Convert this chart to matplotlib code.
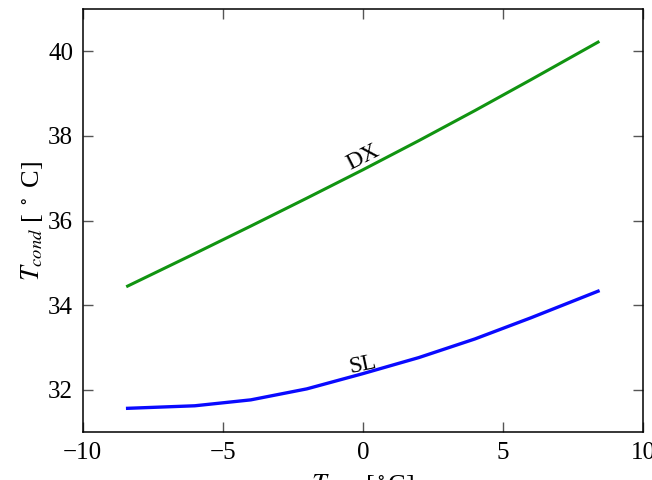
import matplotlib
matplotlib.use("Agg")
import matplotlib.pyplot as plt
import numpy as np

# ambient temperature [C]
t_amb = [-8.4, -6, -4, -2, 0, 2, 4, 6, 8.4]
# condensing temperature, direct expansion
t_dx = [34.45, 35.22, 35.87, 36.53, 37.2, 37.89, 38.6, 39.33, 40.22]
# condensing temperature, secondary loop
t_sl = [31.56, 31.62, 31.76, 32.02, 32.38, 32.76, 33.2, 33.7, 34.33]

plt.rcParams['font.family'] = ['Liberation Serif', 'DejaVu Serif']
plt.rcParams['mathtext.fontset'] = 'stix'

fig = plt.figure(figsize=(6.52, 4.8), dpi=100)
ax = fig.add_axes([0.127, 0.1, 0.859, 0.881])

ax.plot(t_amb, t_dx, color='#119411', lw=2.2)
ax.plot(t_amb, t_sl, color='#0a0aff', lw=2.4)

ax.text(0, 37.5, 'DX', fontsize=17, rotation=27, ha='center', va='center')
ax.text(0, 32.6, 'SL', fontsize=17, rotation=12, ha='center', va='center')

ax.set_xlim(-10, 10)
ax.set_ylim(31, 41)
ax.set_xticks([-10, -5, 0, 5, 10])
ax.set_yticks([32, 34, 36, 38, 40])
ax.tick_params(direction='in', length=7, width=1, color='#555555',
               top=True, right=True, labelsize=18, pad=7)
for s in ax.spines.values():
    s.set_linewidth(1.1)

ax.set_xlabel(r'$T_{amb}$ [$^\circ$C]', fontsize=19, labelpad=6)
ax.set_ylabel(r'$T_{cond}$ [ $^\circ$ C]', fontsize=19, labelpad=2)

fig.savefig('out.png', dpi=100)
